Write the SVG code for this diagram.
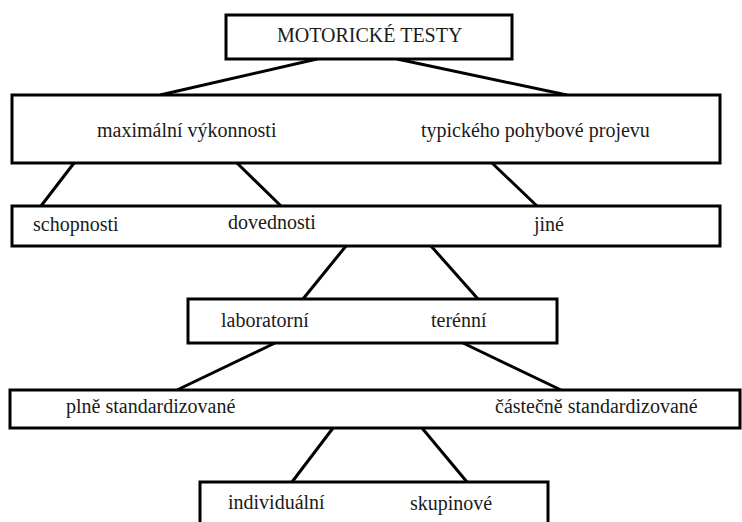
<svg xmlns="http://www.w3.org/2000/svg" width="742" height="522" viewBox="0 0 742 522">
<style>
.box{fill:#fff;stroke:#000;stroke-width:3}
.ln{stroke:#000;stroke-width:3;fill:none}
.t{font-family:'Liberation Serif','DejaVu Serif',serif;font-size:20px;fill:#1a1a1a}
</style>
<rect width="742" height="522" fill="#fff"/>
<g id="connectors">
<line class="ln" x1="317" y1="59" x2="160" y2="95"/>
<line class="ln" x1="397" y1="59" x2="567" y2="95"/>
<line class="ln" x1="74" y1="163" x2="41" y2="206"/>
<line class="ln" x1="237" y1="163" x2="281" y2="206"/>
<line class="ln" x1="492" y1="163" x2="537" y2="206"/>
<line class="ln" x1="346" y1="246" x2="303" y2="299"/>
<line class="ln" x1="431" y1="246" x2="478" y2="299"/>
<line class="ln" x1="275" y1="343" x2="177" y2="390"/>
<line class="ln" x1="463" y1="343" x2="561" y2="390"/>
<line class="ln" x1="333" y1="428" x2="292" y2="482"/>
<line class="ln" x1="422" y1="428" x2="467" y2="482"/>
</g>
<g id="motoricke-testy">
<rect class="box" x="226" y="15" width="286" height="44"/>
<text class="t" x="277" y="42" font-family="Liberation Serif, serif">MOTORICKÉ TESTY</text>
</g>
<g id="vykonnost-projev">
<rect class="box" x="12" y="95" width="708" height="68"/>
<text class="t" x="97" y="137">maximální výkonnosti</text>
<text class="t" x="421" y="137">typického pohybové projevu</text>
</g>
<g id="schopnosti-dovednosti-jine">
<rect class="box" x="12" y="206" width="708" height="40"/>
<text class="t" x="33" y="231">schopnosti</text>
<text class="t" x="228" y="229">dovednosti</text>
<text class="t" x="534" y="231">jiné</text>
</g>
<g id="laboratorni-terenni">
<rect class="box" x="188" y="299" width="369" height="44"/>
<text class="t" x="221" y="327">laboratorní</text>
<text class="t" x="431" y="327">terénní</text>
</g>
<g id="standardizovane">
<rect class="box" x="10" y="390" width="730" height="38"/>
<text class="t" x="66" y="413">plně standardizované</text>
<text class="t" x="495" y="413">částečně standardizované</text>
</g>
<g id="individualni-skupinove">
<rect class="box" x="200" y="482" width="348" height="50"/>
<text class="t" x="228" y="509">individuální</text>
<text class="t" x="410" y="510">skupinové</text>
</g>
</svg>
